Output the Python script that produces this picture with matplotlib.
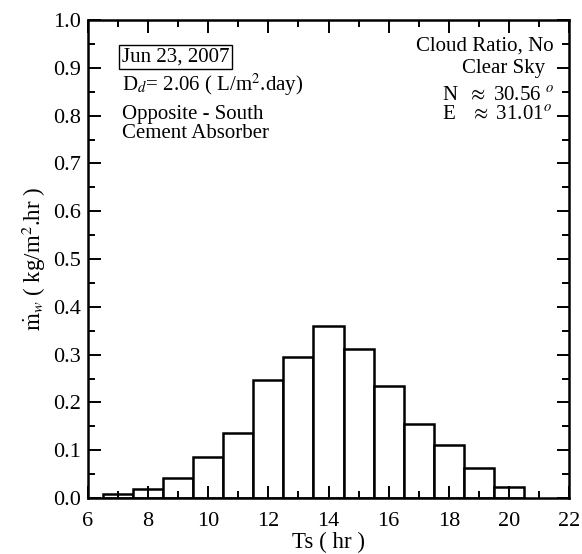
import matplotlib.pyplot as plt
import numpy as np
from matplotlib.ticker import MultipleLocator

# hourly water production (solar time)
hours = [7, 8, 9, 10, 11, 12, 13, 14, 15, 16, 17, 18, 19, 20]
mw = [0.008, 0.019, 0.042, 0.085, 0.135, 0.246, 0.295, 0.359,
      0.311, 0.235, 0.155, 0.110, 0.063, 0.024]

plt.rcParams['font.family'] = ['Liberation Serif', 'DejaVu Serif']
plt.rcParams['mathtext.fontset'] = 'stix'

fig = plt.figure(figsize=(5.82, 5.54), dpi=100)
ax = fig.add_axes([88/582, 1 - 498/554, 481/582, 478/554])

ax.bar(hours, mw, width=1.0, facecolor='white', edgecolor='black', linewidth=1.8)

ax.set_xlim(6, 22)
ax.set_ylim(0, 1.0)
ax.xaxis.set_major_locator(MultipleLocator(2))
ax.xaxis.set_minor_locator(MultipleLocator(1))
ax.yaxis.set_major_locator(MultipleLocator(0.1))
ax.yaxis.set_minor_locator(MultipleLocator(0.05))
ax.yaxis.set_major_formatter(plt.FormatStrFormatter('%.1f'))
ax.tick_params(which='both', direction='in', top=True, right=True, width=1.4)
ax.tick_params(which='major', length=9, labelsize=16)
ax.tick_params(axis='x', which='major', pad=10)
ax.tick_params(axis='y', which='major', pad=5)
ax.tick_params(which='minor', length=5)
for s in ax.spines.values():
    s.set_linewidth(1.8)

ax.set_xlabel('Ts ( hr )', fontsize=16.5, labelpad=1)
ax.set_ylabel(r'$\dot{\mathrm{m}}_w$ ( kg/m$^2$.hr )', fontsize=16.5, labelpad=4)

fs = 15
ax.text(0.07, 0.923, 'Jun 23, 2007', transform=ax.transAxes, fontsize=fs,
        va='center', ha='left',
        bbox=dict(boxstyle='square,pad=0.12', facecolor='white', edgecolor='black', linewidth=1))
ax.text(0.07, 0.864, r'D$_d$= 2.06 ( L/m$^2$.day)', transform=ax.transAxes,
        fontsize=fs, va='center', ha='left')
ax.text(0.07, 0.802, 'Opposite - South', transform=ax.transAxes,
        fontsize=fs, va='center', ha='left')
ax.text(0.07, 0.762, 'Cement Absorber', transform=ax.transAxes,
        fontsize=fs, va='center', ha='left')

ax.text(0.967, 0.946, 'Cloud Ratio, No', transform=ax.transAxes,
        fontsize=fs, va='center', ha='right')
ax.text(0.95, 0.898, 'Clear Sky', transform=ax.transAxes,
        fontsize=fs, va='center', ha='right')
ax.text(0.735, 0.84, r'N  $\approx$ 30.56 $^o$', transform=ax.transAxes,
        fontsize=fs, va='center', ha='left')
ax.text(0.735, 0.80, r'E   $\approx$ 31.01$^o$', transform=ax.transAxes,
        fontsize=fs, va='center', ha='left')

fig.savefig('out.png', dpi=100)
